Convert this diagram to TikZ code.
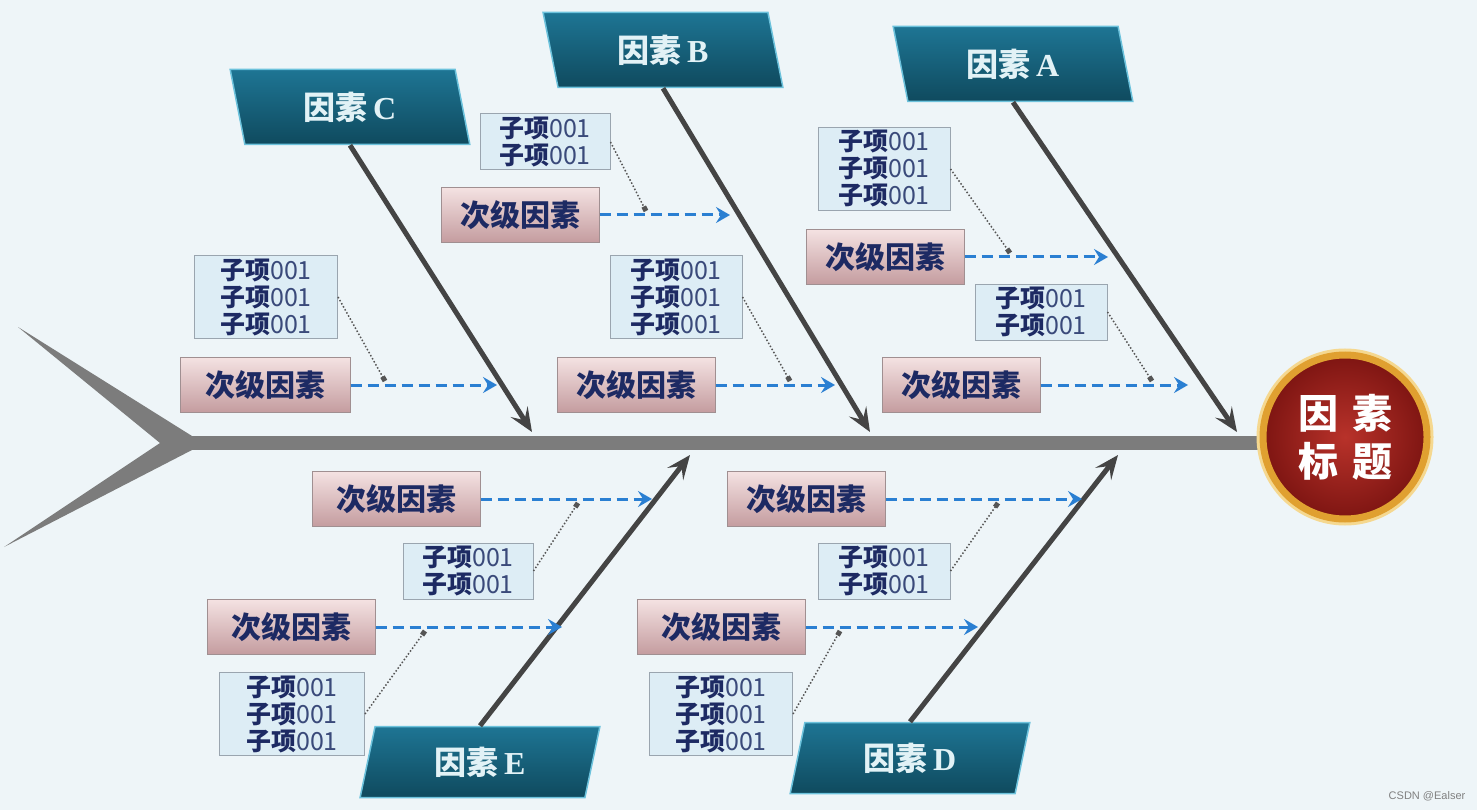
\documentclass[tikz,border=0pt]{standalone}
\usepackage{fontspec}
\setmainfont{Liberation Sans}
\newfontfamily\cjk{Noto Sans CJK SC}
\newfontfamily\serifl{Liberation Serif}
\usetikzlibrary{arrows.meta, positioning, shapes.geometric}
\definecolor{bgpale}{HTML}{EEF5F8}
\definecolor{factortop}{HTML}{1E7594}
\definecolor{factorbot}{HTML}{0F4A5E}
\definecolor{factoredge}{HTML}{6CC2DC}
\definecolor{factortext}{HTML}{E2F2F6}
\definecolor{sectop}{HTML}{F4E2E2}
\definecolor{secbot}{HTML}{C49C9F}
\definecolor{secedge}{HTML}{A08F91}
\definecolor{navy}{HTML}{1D2A63}
\definecolor{itemfill}{HTML}{DDEDF5}
\definecolor{itemedge}{HTML}{9AA5AF}
\definecolor{itemgrey}{HTML}{3A4A7A}
\definecolor{dashblue}{HTML}{2A7FD2}
\definecolor{linkgrey}{HTML}{555555}
\definecolor{bonegrey}{HTML}{444444}
\definecolor{spinegrey}{HTML}{7C7C7C}
\definecolor{headin}{HTML}{B8322A}
\definecolor{headout}{HTML}{7E1512}
\definecolor{ringgold}{HTML}{E0A030}
\definecolor{ringglow}{HTML}{F5D890}
\newcommand{\subline}{\textbf{子项}{\color{itemgrey}001}}

\begin{document}
\begin{tikzpicture}[x=1pt, y=-1pt,
  factor/.style={trapezium, trapezium stretches=true, minimum width=240pt, minimum height=75pt,
    inner sep=0pt, draw=factoredge, line width=1.5pt, top color=factortop, bottom color=factorbot,
    text=factortext, font=\cjk\bfseries\fontsize{32}{36}\selectfont},
  upfactor/.style={factor, trapezium left angle=102, trapezium right angle=78},
  downfactor/.style={factor, trapezium left angle=78, trapezium right angle=102, minimum height=71pt},
  secbox/.style={draw=secedge, line width=1pt, top color=sectop, bottom color=secbot,
    minimum width=158pt, minimum height=55pt, text=navy, font=\cjk\bfseries\fontsize{30}{32}\selectfont},
  itembox/.style={draw=itemedge, line width=1pt, fill=itemfill, minimum width=132pt, inner sep=3pt,
    align=center, text=navy, font=\cjk\fontsize{25}{27}\selectfont},
  headball/.style={circle, minimum size=164pt, inner color=headin, outer color=headout,
    draw=ringgold, line width=7pt, preaction={draw=ringglow, line width=13pt},
    align=center, text=white, font=\cjk\bfseries\fontsize{40}{48}\selectfont},
  bone/.style={draw=bonegrey, line width=5pt, -{Stealth[length=24pt, width=20pt, inset=10pt]}},
  subarrow/.style={draw=dashblue, line width=3pt, dash pattern=on 11pt off 6pt,
    -{Stealth[length=14pt, width=16pt, inset=5pt]}},
  itemlink/.style={draw=linkgrey, line width=1.5pt, dotted, -{Square[length=5pt, width=5pt]}}
]
\fill[bgpale] (0,0) rectangle (1477,810);
\useasboundingbox (0,0) rectangle (1477,810);

% fish tail and spine
\fill[spinegrey] (18,327) -- (192,436) -- (192,450) -- (4,547) -- (160,443) -- cycle;
\coordinate (tailjoin) at (185,443);
\coordinate (spineend) at (1270,443);
\draw[spinegrey, line width=14pt] (tailjoin) -- (spineend);
\node[headball] (head) at (1345,437) {因\hspace{14pt}素\\标\hspace{14pt}题};

% main factors
\node[upfactor] (facC) at (350,107) {因素\,{\serifl C}};
\node[upfactor] (facB) at (663,50) {因素\,{\serifl B}};
\node[upfactor] (facA) at (1013,64) {因素\,{\serifl A}};
\node[downfactor] (facE) at (480,762) {因素\,{\serifl E}};
\node[downfactor] (facD) at (910,758) {因素\,{\serifl D}};

\coordinate (tipC) at (532,432);
\coordinate (tipB) at (870,432);
\coordinate (tipA) at (1237,432);
\coordinate (tipE) at (690,455);
\coordinate (tipD) at (1118,455);
\draw[bone] (facC.south) -- (tipC);
\draw[bone] (facB.south) -- (tipB);
\draw[bone] (facA.south) -- (tipA);
\draw[bone] (facE.north) -- (tipE);
\draw[bone] (facD.north) -- (tipD);

% secondary factors
\node[secbox, minimum width=170pt] (secC) at (265,385) {次级因素};
\node[secbox] (secBa) at (520,215) {次级因素};
\node[secbox] (secBb) at (636,385) {次级因素};
\node[secbox] (secAa) at (885,257) {次级因素};
\node[secbox] (secAb) at (961,385) {次级因素};
\node[secbox, minimum width=168pt] (secEa) at (396,499) {次级因素};
\node[secbox, minimum width=168pt] (secEb) at (291,627) {次级因素};
\node[secbox] (secDa) at (806,499) {次级因素};
\node[secbox, minimum width=168pt] (secDb) at (721,627) {次级因素};

\coordinate (endC) at (497,385);
\coordinate (endBa) at (730,215);
\coordinate (endBb) at (835,385);
\coordinate (endAa) at (1108,257);
\coordinate (endAb) at (1188,385);
\coordinate (endEa) at (652,499);
\coordinate (endEb) at (562,627);
\coordinate (endDa) at (1082,499);
\coordinate (endDb) at (978,627);
\draw[subarrow] (secC.east) -- (endC);
\draw[subarrow] (secBa.east) -- (endBa);
\draw[subarrow] (secBb.east) -- (endBb);
\draw[subarrow] (secAa.east) -- (endAa);
\draw[subarrow] (secAb.east) -- (endAb);
\draw[subarrow] (secEa.east) -- (endEa);
\draw[subarrow] (secEb.east) -- (endEb);
\draw[subarrow] (secDa.east) -- (endDa);
\draw[subarrow] (secDb.east) -- (endDb);

% sub items
\node[itembox, minimum width=143pt] (itemC) at (266,297) {\subline\\\subline\\\subline};
\node[itembox, minimum width=130pt] (itemBa) at (545,142) {\subline\\\subline};
\node[itembox] (itemBb) at (676,297) {\subline\\\subline\\\subline};
\node[itembox] (itemAa) at (884,169) {\subline\\\subline\\\subline};
\node[itembox] (itemAb) at (1041,312) {\subline\\\subline};
\node[itembox, minimum width=130pt] (itemEa) at (468,571) {\subline\\\subline};
\node[itembox, minimum width=145pt] (itemEb) at (292,714) {\subline\\\subline\\\subline};
\node[itembox] (itemDa) at (884,571) {\subline\\\subline};
\node[itembox, minimum width=143pt] (itemDb) at (721,714) {\subline\\\subline\\\subline};

\coordinate (dotC) at (385,381);
\coordinate (dotBa) at (646,211);
\coordinate (dotBb) at (790,381);
\coordinate (dotAa) at (1010,253);
\coordinate (dotAb) at (1152,381);
\coordinate (dotEa) at (578,503);
\coordinate (dotEb) at (425,631);
\coordinate (dotDa) at (998,503);
\coordinate (dotDb) at (840,631);
\draw[itemlink] (itemC.east) -- (dotC);
\draw[itemlink] (itemBa.east) -- (dotBa);
\draw[itemlink] (itemBb.east) -- (dotBb);
\draw[itemlink] (itemAa.east) -- (dotAa);
\draw[itemlink] (itemAb.east) -- (dotAb);
\draw[itemlink] (itemEa.east) -- (dotEa);
\draw[itemlink] (itemEb.east) -- (dotEb);
\draw[itemlink] (itemDa.east) -- (dotDa);
\draw[itemlink] (itemDb.east) -- (dotDb);

\node[font=\fontsize{11}{12}\selectfont, text=gray] (mark) at (1427,796) {CSDN @Ealser};
\end{tikzpicture}
\end{document}
